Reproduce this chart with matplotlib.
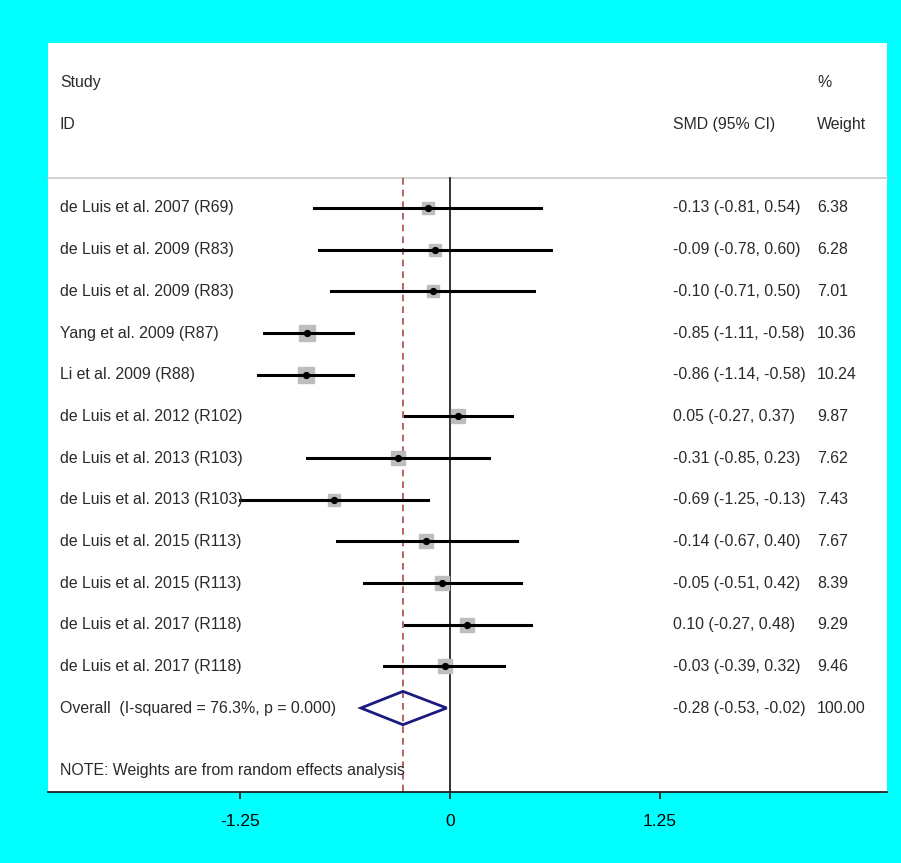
import numpy as np
import matplotlib.pyplot as plt
from matplotlib.patches import Polygon

plt.rcParams['font.family'] = ['Liberation Sans', 'DejaVu Sans']

# study data
studies = [
    "de Luis et al. 2007 (R69)",
    "de Luis et al. 2009 (R83)",
    "de Luis et al. 2009 (R83)",
    "Yang et al. 2009 (R87)",
    "Li et al. 2009 (R88)",
    "de Luis et al. 2012 (R102)",
    "de Luis et al. 2013 (R103)",
    "de Luis et al. 2013 (R103)",
    "de Luis et al. 2015 (R113)",
    "de Luis et al. 2015 (R113)",
    "de Luis et al. 2017 (R118)",
    "de Luis et al. 2017 (R118)",
]
smd = [-0.13, -0.09, -0.10, -0.85, -0.86, 0.05, -0.31, -0.69, -0.14, -0.05, 0.10, -0.03]
ci_lo = [-0.81, -0.78, -0.71, -1.11, -1.14, -0.27, -0.85, -1.25, -0.67, -0.51, -0.27, -0.39]
ci_hi = [0.54, 0.60, 0.50, -0.58, -0.58, 0.37, 0.23, -0.13, 0.40, 0.42, 0.48, 0.32]
weights = [6.38, 6.28, 7.01, 10.36, 10.24, 9.87, 7.62, 7.43, 7.67, 8.39, 9.29, 9.46]

overall_label = "Overall  (I-squared = 76.3%, p = 0.000)"
overall = (-0.28, -0.53, -0.02)
overall_weight = 100.00
xticks = [-1.25, 0, 1.25]
xticklabels = ["-1.25", "0", "1.25"]

W, H = 901, 863
fig = plt.figure(figsize=(W / 100, H / 100), dpi=100, facecolor='#00ffff')

# axes covers the white panel (pixels 48..887 x, 43..792 y)
px0, px1, py0, py1 = 48, 887, 43, 792
ax = fig.add_axes([px0 / W, 1 - py1 / H, (px1 - px0) / W, (py1 - py0) / H])
ax.set_facecolor('white')

x_zero, px_per_unit = 450, 168.0
ax.set_xlim((px0 - x_zero) / px_per_unit, (px1 - x_zero) / px_per_unit)
row_h = 41.67
to_row = lambda py: (py - 208) / row_h + 1
ax.set_ylim(to_row(py1), to_row(py0))

txt = '#2a2a2a'
fs = 11.4
xl = ax.get_xlim()
x_lab = (60 - x_zero) / px_per_unit
x_smd = (673 - x_zero) / px_per_unit
x_w = (817 - x_zero) / px_per_unit

# header
ax.text(x_lab, -2, "Study", fontsize=fs, color=txt, va='center')
ax.text(x_lab, -1, "ID", fontsize=fs, color=txt, va='center')
ax.text(x_w, -2, "%", fontsize=fs, color=txt, va='center')
ax.text(x_smd, -1, "SMD (95% CI)", fontsize=fs, color=txt, va='center')
ax.text(x_w, -1, "Weight", fontsize=fs, color=txt, va='center')
y_sep = to_row(178)
ax.plot(xl, [y_sep, y_sep], color='#c8c8c8', lw=1.2, clip_on=False)

# reference lines
y_bot = to_row(py1)
ax.plot([0, 0], [y_sep, y_bot], color='#222222', lw=1.3)
ax.plot([overall[0], overall[0]], [y_sep, y_bot], color='#b04848', lw=1.2, ls=(0, (4, 3)))

rows = np.arange(1, len(studies) + 1)
for r, name, m, lo, hi, w in zip(rows, studies, smd, ci_lo, ci_hi, weights):
    ax.plot(m, r, marker='s', ms=11 * np.sqrt(w / 10.36), color='#bdbdbd', mec='#bdbdbd', zorder=2)
    ax.plot([lo, hi], [r, r], color='black', lw=2.2, zorder=3)
    ax.plot(m, r, marker='o', ms=4.2, color='black', zorder=4)
    ax.text(x_lab, r, name, fontsize=fs, color=txt, va='center')
    ax.text(x_smd, r, f"{m:.2f} ({lo:.2f}, {hi:.2f})", fontsize=fs, color=txt, va='center')
    ax.text(x_w, r, f"{w:.2f}", fontsize=fs, color=txt, va='center')

# overall diamond
r_ov = len(studies) + 1
m, lo, hi = overall
dh = 0.4
diamond = Polygon([[lo, r_ov], [m, r_ov - dh], [hi, r_ov], [m, r_ov + dh]],
                  closed=True, fill=False, ec='#1a1a80', lw=2, zorder=5)
ax.add_patch(diamond)
ax.text(x_lab, r_ov, overall_label, fontsize=fs, color=txt, va='center')
ax.text(x_smd, r_ov, f"{m:.2f} ({lo:.2f}, {hi:.2f})", fontsize=fs, color=txt, va='center')
ax.text(x_w, r_ov, f"{overall_weight:.2f}", fontsize=fs, color=txt, va='center')

ax.text(x_lab, to_row(771), "NOTE: Weights are from random effects analysis",
        fontsize=fs, color=txt, va='center')

# axis styling
for s in ['top', 'left', 'right']:
    ax.spines[s].set_visible(False)
ax.spines['bottom'].set_color('#222222')
ax.spines['bottom'].set_linewidth(1.3)
ax.set_yticks([])
ax.set_xticks(xticks)
ax.set_xticklabels(xticklabels)
ax.tick_params(axis='x', length=5, width=1.3, color='#222222', labelsize=12.5,
               labelcolor='black', pad=11)

fig.savefig('out.png', dpi=100, facecolor=fig.get_facecolor())
